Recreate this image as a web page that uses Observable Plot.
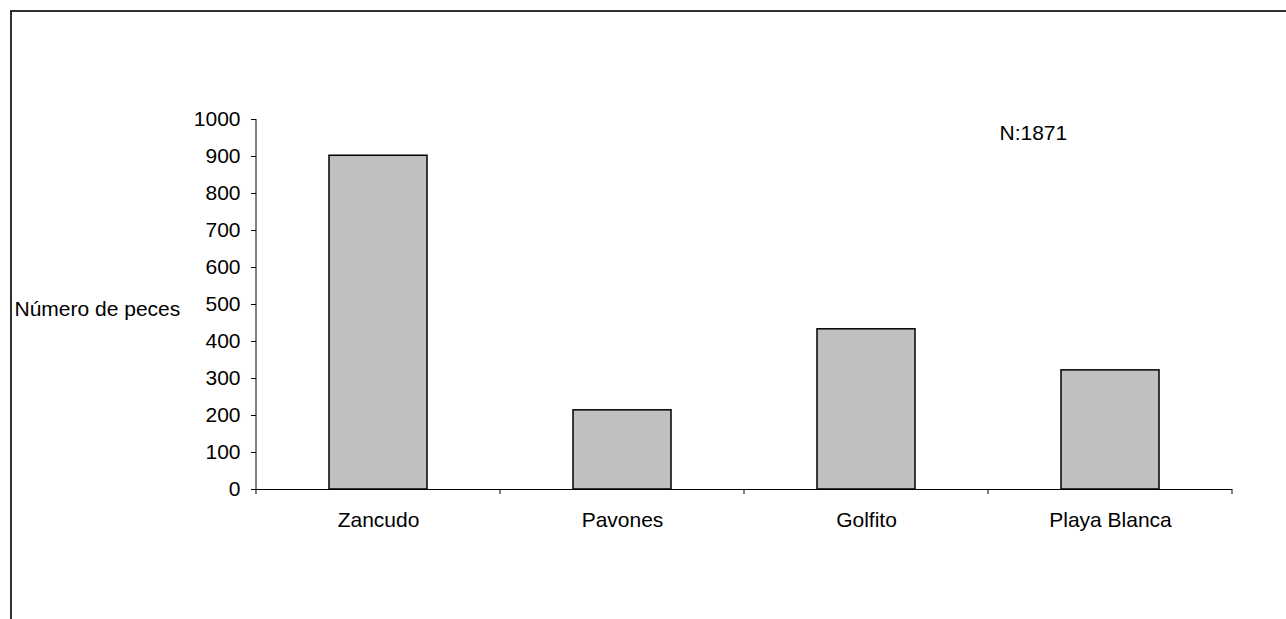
<!DOCTYPE html>
<html>
<head>
<meta charset="utf-8">
<script src="https://cdn.jsdelivr.net/npm/d3@7"></script>
<script src="https://cdn.jsdelivr.net/npm/@observablehq/plot@0.6"></script>
<style>
  html, body { margin: 0; padding: 0; background: #fff; }
  #wrap { position: relative; width: 1286px; height: 619px; overflow: hidden; }
  #border { position: absolute; left: 10px; top: 10px; width: 1300px; height: 700px;
            border-top: 2px solid #303030; border-left: 2px solid #303030; pointer-events: none; }
  #chart { position: absolute; left: 0; top: 0; }
</style>
</head>
<body>
<div id="wrap"><div id="chart"></div><div id="border"></div></div>
<script>
const sites = ["Zancudo", "Pavones", "Golfito", "Playa Blanca"];
const counts = [902, 214, 433, 322];
const yTicks = [0, 100, 200, 300, 400, 500, 600, 700, 800, 900, 1000];
const yLabel = "Número de peces";
const nLabel = "N:1871";

const data = sites.map((s, i) => ({site: s, count: counts[i]}));

// custom mark: y axis line and tick marks at category boundaries
function axisLines(index, scales, values, dimensions) {
  const {x, y} = scales;
  const g = d3.create("svg:g").attr("stroke", "#000").attr("stroke-width", 1).attr("fill", "none");
  const y0 = y(0);
  const left = dimensions.marginLeft;
  g.append("line").attr("x1", left).attr("x2", left)
    .attr("y1", y(1000)).attr("y2", y0 + 5);
  const step = x(sites[1]) - x(sites[0]);
  const bw = x.bandwidth();
  const bounds = sites.map(s => x(s) + bw / 2 + step / 2);
  bounds.forEach(b => {
    g.append("line").attr("x1", b).attr("x2", b).attr("y1", y0).attr("y2", y0 + 5);
  });
  return g.node();
}

const plot = Plot.plot({
  width: 1286,
  height: 619,
  marginLeft: 256,
  marginRight: 54,
  marginTop: 119,
  marginBottom: 130,
  style: {fontFamily: "'Liberation Sans', Arial, sans-serif", fontSize: "21px", color: "#000", background: "transparent"},
  x: {domain: sites, paddingInner: 0.6, paddingOuter: 0.3, label: null},
  y: {domain: [0, 1000], label: null},
  marks: [
    Plot.barY(data, {x: "site", y: "count", fill: "#c0c0c0", stroke: "#000", strokeWidth: 1.5}),
    Plot.ruleY([0], {stroke: "#000", strokeWidth: 1.2}),
    Plot.axisY(yTicks, {tickSize: 5, tickPadding: 11, tickFormat: d => String(d), label: null, fontSize: 21}),
    Plot.axisX(sites, {tickSize: 0, tickPadding: 23, label: null, fontSize: 21}),
    axisLines,
    Plot.text([yLabel], {frameAnchor: "left", textAnchor: "start", lineAnchor: "middle", dx: -242, dy: 5, fontSize: 21}),
    Plot.text([nLabel], {frameAnchor: "top-right", textAnchor: "start", lineAnchor: "middle", dx: -233, dy: 14, fontSize: 21})
  ]
});
document.getElementById("chart").appendChild(plot);
</script>
</body>
</html>
